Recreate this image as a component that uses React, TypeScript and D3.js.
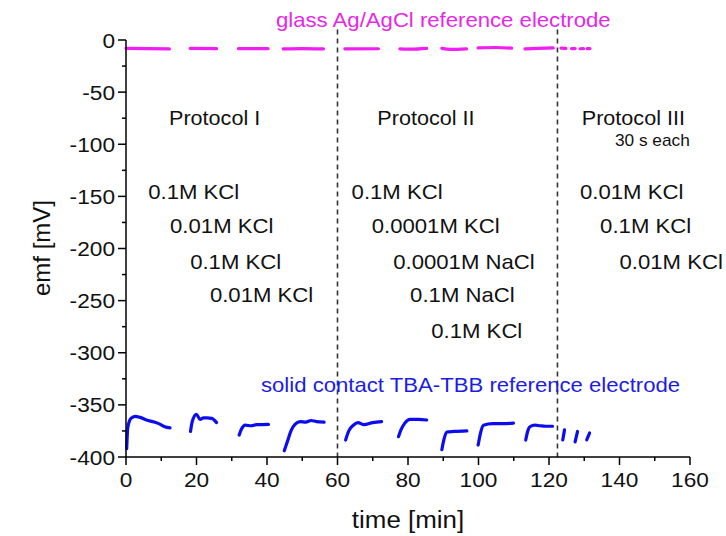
import React from "react";
import * as d3 from "d3";

// ---------- data ----------
// solid contact TBA-TBB reference electrode: each sub-array is one recorded segment [time min, emf mV]
const solidSegments: [number, number][][] = [
  [[0.2, -392], [0.5, -372], [1.4, -363], [2.6, -361], [4, -362], [5.8, -364.5], [8, -366.5], [9.6, -368.5], [11, -371], [12.5, -372]],
  [[18.3, -375.5], [18.8, -366], [20, -359], [21, -364], [22, -362.5], [23, -362.5], [24.3, -363], [25.7, -367]],
  [[32.1, -379], [32.8, -373], [33.8, -369.5], [35.5, -370], [37, -369], [40.4, -368.7]],
  [[44.9, -394], [45.8, -385], [46.8, -375], [48, -368.5], [49.5, -366], [51, -366.5], [52.5, -365], [54, -366], [56.2, -366.5]],
  [[62.3, -383.7], [63.2, -375], [64.5, -369.5], [65.8, -367], [67.5, -369], [70, -367], [72.5, -366]],
  [[77.3, -380.5], [78, -374], [79, -368], [80.6, -364], [83, -364], [85.3, -364.5]],
  [[89.6, -393], [90.2, -383], [91, -376], [93, -375.5], [96.7, -375]],
  [[99.9, -388.5], [100.5, -378], [101.4, -369.5], [104, -368], [107, -368], [109.9, -367.5]],
  [[113.4, -383.7], [113.9, -376], [114.6, -371], [116, -369.5], [117.4, -370], [119, -370.5], [121, -370.5]],
  [[123.9, -383.7], [124.4, -374]],
  [[127.4, -385.5], [128.1, -375.5]],
  [[130.7, -383.5], [131.5, -377]],
];

// glass Ag/AgCl reference electrode
const glassSegments: [number, number][][] = [
  [[0, -8], [12.3, -8.5]],
  [[18.2, -8], [25.7, -8.3]],
  [[31.9, -8.2], [40.3, -8.3]],
  [[44.6, -8.5], [50, -8.2], [56, -8.6]],
  [[62.1, -8.5], [71.6, -8.4]],
  [[77.7, -8.5], [81, -8.8], [85.3, -8]],
  [[89.6, -8], [92, -9], [96.6, -8.5]],
  [[99.9, -7.6], [105, -7.2], [109.4, -7.8]],
  [[113.2, -8.5], [117, -8], [121.2, -7.6]],
  [[123.4, -7.8], [124.8, -8]],
  [[126.4, -8.2], [127.4, -8.2]],
  [[128.8, -8.4], [129.8, -8.2]],
  [[130.8, -8.2], [131.6, -8.2]],
];

const protocolBoundaries = [60, 122.4];

const xTicks = [0, 20, 40, 60, 80, 100, 120, 140, 160];
const xMinorTicks = [10, 30, 50, 70, 90, 110, 130, 150];
const yTicks = [0, -50, -100, -150, -200, -250, -300, -350, -400];
const yMinorTicks = [-25, -75, -125, -175, -225, -275, -325, -375];

const protocolLabels = [
  { text: "Protocol I", t: 12.2, v: -82 },
  { text: "Protocol II", t: 71.3, v: -82 },
  { text: "Protocol III", t: 129.3, v: -81.5 },
];
const subLabels = [{ text: "30 s each", t: 138.7, v: -101.5 }];

const solutionLabels = [
  { text: "0.1M KCl", t: 6.3, v: -152.5 },
  { text: "0.01M KCl", t: 12.5, v: -185.5 },
  { text: "0.1M KCl", t: 18.2, v: -220 },
  { text: "0.01M KCl", t: 23.8, v: -251 },
  { text: "0.1M KCl", t: 64, v: -152.5 },
  { text: "0.0001M KCl", t: 69.7, v: -185.5 },
  { text: "0.0001M NaCl", t: 75.8, v: -220 },
  { text: "0.1M NaCl", t: 80.6, v: -251 },
  { text: "0.1M KCl", t: 86.6, v: -286 },
  { text: "0.01M KCl", t: 128.8, v: -152.5 },
  { text: "0.1M KCl", t: 134.5, v: -185.5 },
  { text: "0.01M KCl", t: 140, v: -220 },
];

// ---------- chart ----------
const W = 726;
const H = 536;
const FONT = "'Liberation Sans', Arial, Helvetica, sans-serif";
const SX = 1.08;
const MAGENTA_LINE = "#f01ef0";
const MAGENTA_TEXT = "#e628e6";
const BLUE_LINE = "#0c0cee";
const BLUE_TEXT = "#1c1ce6";

function T(props: {
  x: number;
  y: number;
  size: number;
  anchor?: "start" | "middle" | "end";
  fill?: string;
  children: React.ReactNode;
  sx?: number;
}) {
  const { x, y, size, anchor = "start", fill = "#111", children, sx = SX } = props;
  return (
    <text
      transform={`translate(${x},${y}) scale(${sx},1)`}
      fontSize={size}
      textAnchor={anchor}
      fill={fill}
      fontFamily={FONT}
    >
      {children}
    </text>
  );
}

export default function App() {
  const x = d3.scaleLinear().domain([0, 160]).range([126, 690]);
  const y = d3.scaleLinear().domain([0, -400]).range([40, 457]);

  const line = d3
    .line<[number, number]>()
    .x((d) => x(d[0]))
    .y((d) => y(d[1]))
    .curve(d3.curveMonotoneX);

  const x0 = x(0);
  const y0 = y(-400);

  return (
    <svg
      width={W}
      height={H}
      style={{ position: "absolute", left: 0, top: 0, background: "#fff" }}
      fontFamily={FONT}
    >
      <rect width={W} height={H} fill="#fff" />

      {/* protocol boundaries */}
      {protocolBoundaries.map((b) => (
        <line
          key={b}
          x1={x(b)}
          x2={x(b)}
          y1={y(10)}
          y2={y(-400)}
          stroke="#333"
          strokeWidth={1.6}
          strokeDasharray="5,4"
        />
      ))}

      {/* glass electrode */}
      {glassSegments.map((s, i) => (
        <path key={"g" + i} d={line(s) || ""} fill="none" stroke={MAGENTA_LINE} strokeWidth={3.2} strokeLinecap="round" />
      ))}

      {/* solid contact electrode */}
      {solidSegments.map((s, i) => (
        <path
          key={"s" + i}
          d={line(s) || ""}
          fill="none"
          stroke={BLUE_LINE}
          strokeWidth={3.2}
          strokeLinecap="round"
          strokeLinejoin="round"
        />
      ))}

      {/* axes */}
      <line x1={x0} x2={x0} y1={y(0)} y2={y0} stroke="#000" strokeWidth={1.5} />
      <line x1={x0} x2={x(160)} y1={y0} y2={y0} stroke="#000" strokeWidth={1.5} />
      {yTicks.map((v) => (
        <g key={"yt" + v}>
          <line x1={x0 - 8} x2={x0} y1={y(v)} y2={y(v)} stroke="#000" strokeWidth={1.5} />
          <T x={x0 - 11} y={y(v) + 7.5} size={21} anchor="end">
            {String(v)}
          </T>
        </g>
      ))}
      {yMinorTicks.map((v) => (
        <line key={"ym" + v} x1={x0 - 4} x2={x0} y1={y(v)} y2={y(v)} stroke="#000" strokeWidth={1.5} />
      ))}
      {xTicks.map((v) => (
        <g key={"xt" + v}>
          <line x1={x(v)} x2={x(v)} y1={y0} y2={y0 + 8} stroke="#000" strokeWidth={1.5} />
          <T x={x(v)} y={y0 + 30} size={21} anchor="middle">
            {String(v)}
          </T>
        </g>
      ))}
      {xMinorTicks.map((v) => (
        <line key={"xm" + v} x1={x(v)} x2={x(v)} y1={y0} y2={y0 + 4} stroke="#000" strokeWidth={1.5} />
      ))}

      {/* axis titles */}
      <T x={408} y={528} size={24} anchor="middle">
        time [min]
      </T>
      <text
        transform="translate(50,248) rotate(-90)"
        fontSize={24}
        textAnchor="middle"
        fill="#111"
        fontFamily={FONT}
      >
        emf [mV]
      </text>

      {/* series labels */}
      <T x={276} y={27} size={20.5} fill={MAGENTA_TEXT}>
        glass Ag/AgCl reference electrode
      </T>
      <T x={261} y={392} size={20.5} fill={BLUE_TEXT}>
        solid contact TBA-TBB reference electrode
      </T>

      {/* protocol labels */}
      {protocolLabels.map((p) => (
        <T key={p.text} x={x(p.t)} y={y(p.v)} size={20}>
          {p.text}
        </T>
      ))}
      {subLabels.map((p) => (
        <T key={p.text} x={x(p.t)} y={y(p.v)} size={16}>
          {p.text}
        </T>
      ))}
      {solutionLabels.map((p, i) => (
        <T key={"sl" + i} x={x(p.t)} y={y(p.v)} size={20.5}>
          {p.text}
        </T>
      ))}
    </svg>
  );
}
